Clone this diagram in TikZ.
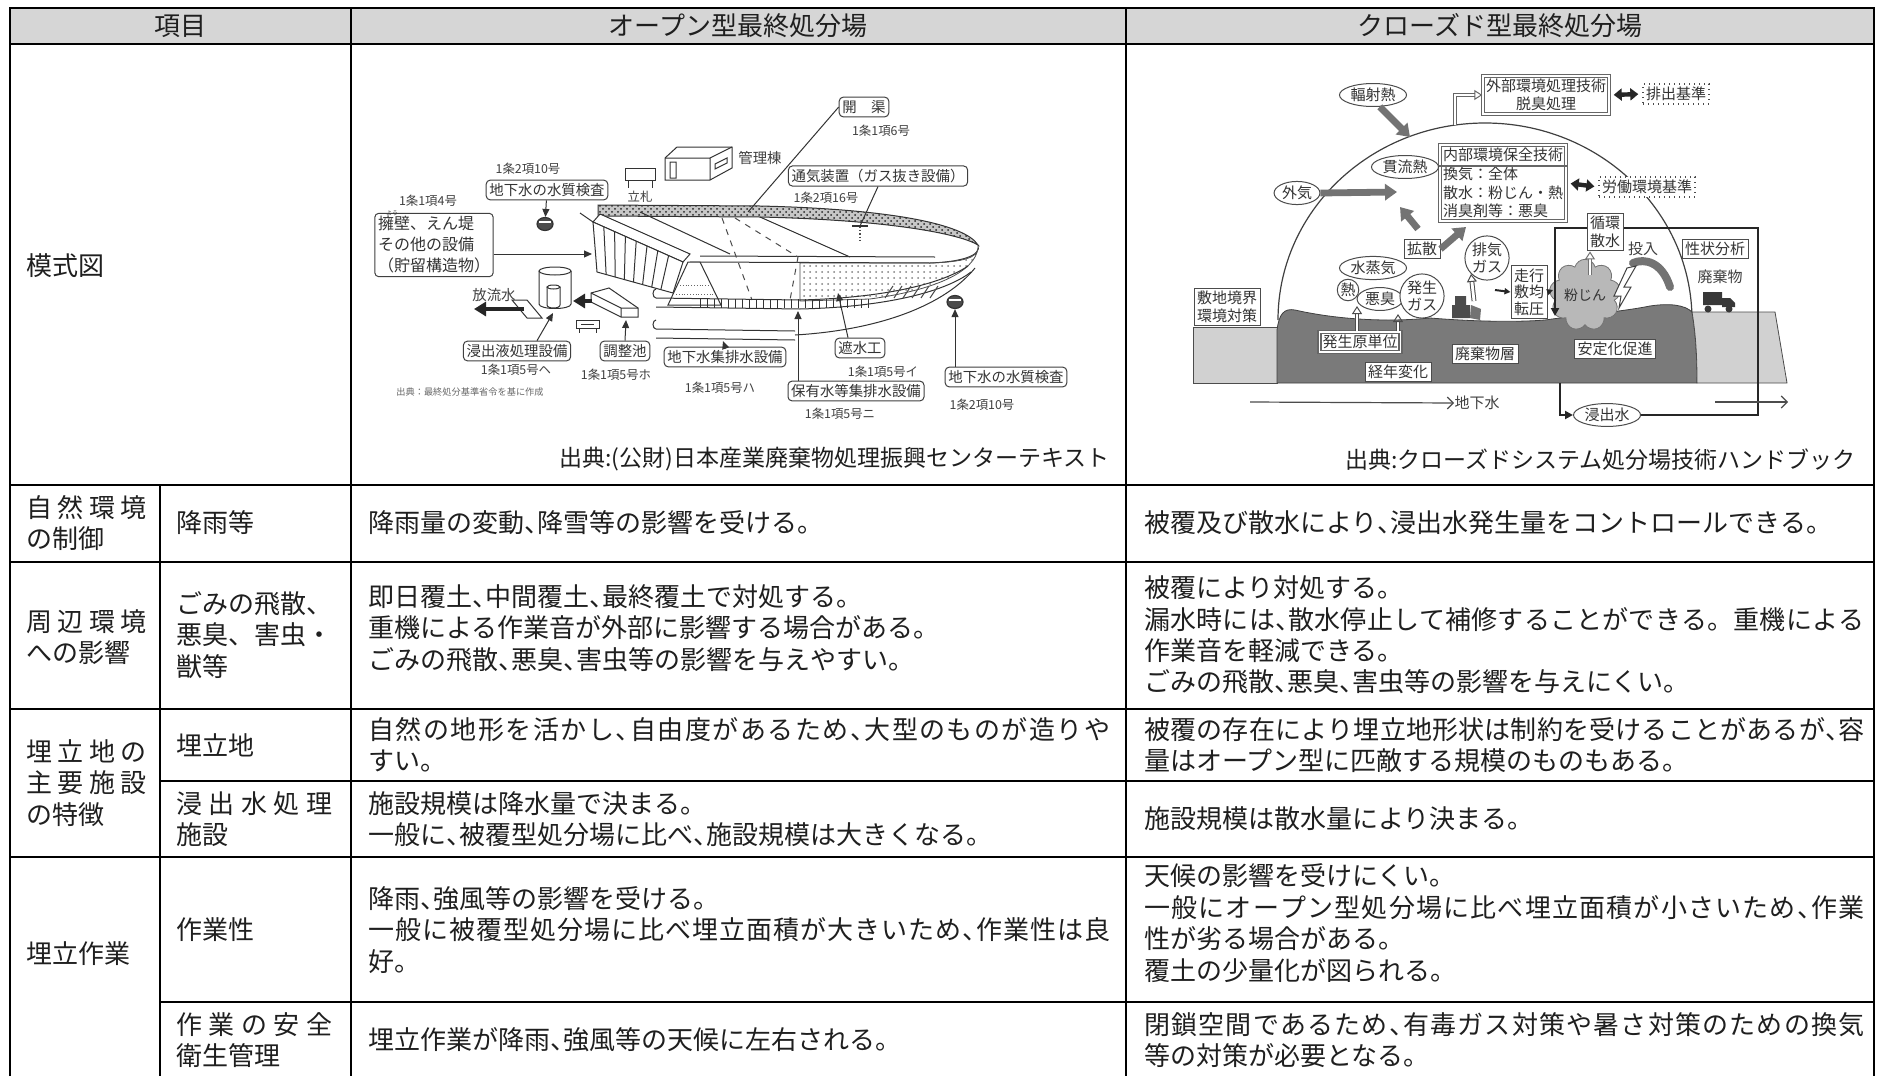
\documentclass[tikz,border=0pt]{standalone}
\usepackage{fontspec}
\setmainfont{Noto Sans CJK JP}
\usetikzlibrary{positioning,arrows.meta,shapes.geometric,shapes.symbols,patterns}
\newcommand{\tn}{\makebox[0.5em][l]{、}}
\def\jspread#1{#1\jspreadnext}
\def\jspreadnext#1{\ifx\relax#1\else\hfill#1\expandafter\jspreadnext\fi}
\newcommand{\jline}[2]{\makebox[#1]{\jspread#2\relax}}

\begin{document}
\begin{tikzpicture}[x=0.5pt,y=-0.5pt,
  gridline/.style={line width=1.1pt},
  cell/.style={anchor=west,align=left,inner sep=0pt,text=black!88,font=\fontsize{13}{15.7}\selectfont},
  hdr/.style={inner sep=0pt,text=black!88,font=\fontsize{13}{15}\selectfont},
  src/.style={cell,anchor=east,font=\fontsize{11.5}{14}\selectfont},
  lbl/.style={draw=black!75,rounded corners=2pt,line width=0.5pt,fill=white,inner sep=1.6pt,font=\fontsize{7.2}{9}\selectfont,text=black!80},
  num/.style={inner sep=0pt,font=\fontsize{6.2}{7}\selectfont,text=black!75},
  btag/.style={draw=black!70,line width=0.5pt,fill=white,inner sep=1.5pt,align=center,font=\fontsize{7.5}{9}\selectfont,text=black!80},
  dtag/.style={btag,draw=black!60,line width=0.7pt,double=white,double distance=0.8pt},
  dotbox/.style={btag,dotted,line width=0.7pt},
  oval/.style={draw=black!70,ellipse,line width=0.5pt,fill=white,inner sep=0.6pt,align=center,font=\fontsize{7.5}{8.5}\selectfont,text=black!80},
  lead/.style={-{Triangle[length=4pt,width=3.5pt]},line width=0.5pt,black!80},
  fat/.style={-{Triangle[length=6pt,width=7pt]},line width=2.2pt,black!85},
  heavy/.style={-{Triangle[length=6pt,width=8pt]},line width=3.4pt,black!55},
  hollow/.style={-{Triangle[open,length=4pt,width=5pt]},double=white,double distance=1.4pt,line width=0.5pt,black!70},
  twoway/.style={{Triangle[length=4pt,width=6pt]}-{Triangle[length=4pt,width=6pt]},line width=2.2pt,black!85,shorten >=2pt,shorten <=2pt}]

\useasboundingbox (0,0) rectangle (1878,1076);
\fill[white] (0,0) rectangle (1878,1076);
\fill[black!16] (10,8) rectangle (1874,44);
\draw[gridline] (10,1076) -- (10,8) -- (1874,8) -- (1874,1076);
\draw[gridline] (10,44) -- (1874,44) (10,485) -- (1874,485) (10,562) -- (1874,562) (10,709) -- (1874,709)
  (160,781) -- (1874,781) (10,857) -- (1874,857) (160,1002) -- (1874,1002);
\draw[gridline] (351,8) -- (351,1076) (1126,8) -- (1126,1076) (160,485) -- (160,1076);

\node[hdr] (hkoumoku) at (180,26) {項目};
\node[hdr] (hopen) at (738,26) {オープン型最終処分場};
\node[hdr] (hclosed) at (1500,26) {クローズド型最終処分場};

\node[cell] (mokei) at (26,266) {模式図};
\node[src] (srcopen) at (1110,459) {出典:(公財)日本産業廃棄物処理振興センターテキスト};
\node[src] (srcclosed) at (1856,460) {出典:クローズドシステム処分場技術ハンドブック};

\node[cell] (shizen) at (26,523) {\jline{60pt}{自然環境}\\の制御};
\node[cell] (kouu) at (176,523) {降雨等};
\node[cell] (shizenopen) at (368,523) {降雨量の変動\tn 降雪等の影響を受ける。};
\node[cell] (shizenclosed) at (1144,523) {被覆及び散水により\tn 浸出水発生量をコントロールできる。};

\node[cell] (shuhen) at (26,637) {\jline{60pt}{周辺環境}\\への影響};
\node[cell] (gomi) at (176,635) {ごみの飛散、\\\jline{78pt}{悪臭、害虫・}\\獣等};
\node[cell] (shuhenopen) at (368,628) {即日覆土\tn 中間覆土\tn 最終覆土で対処する。\\重機による作業音が外部に影響する場合がある。\\ごみの飛散\tn 悪臭\tn 害虫等の影響を与えやすい。};
\node[cell] (shuhenclosed) at (1144,635) {被覆により対処する。\\\jline{360pt}{漏水時には\tn 散水停止して補修することができる。重機による}\\作業音を軽減できる。\\ごみの飛散\tn 悪臭\tn 害虫等の影響を与えにくい。};

\node[cell] (umetatechi) at (26,783) {\jline{60pt}{埋立地の}\\\jline{60pt}{主要施設}\\の特徴};
\node[cell] (chi) at (176,745) {埋立地};
\node[cell] (chiopen) at (368,745) {\jline{371pt}{自然の地形を活かし\tn 自由度があるため\tn 大型のものが造りや}\\すい。};
\node[cell] (chiclosed) at (1144,745) {\jline{360pt}{被覆の存在により埋立地形状は制約を受けることがあるが\tn 容}\\量はオープン型に匹敵する規模のものもある。};
\node[cell] (shisetsu) at (176,819) {\jline{78pt}{浸出水処理}\\施設};
\node[cell] (shisetsuopen) at (368,819) {施設規模は降水量で決まる。\\一般に\tn 被覆型処分場に比べ\tn 施設規模は大きくなる。};
\node[cell] (shisetsuclosed) at (1144,819) {施設規模は散水量により決まる。};

\node[cell] (sagyou) at (26,954) {埋立作業};
\node[cell] (sagyousei) at (176,930) {作業性};
\node[cell] (sagyouopen) at (368,930) {降雨\tn 強風等の影響を受ける。\\\jline{371pt}{一般に被覆型処分場に比べ埋立面積が大きいため\tn 作業性は良}\\好。};
\node[cell] (sagyouclosed) at (1144,923) {天候の影響を受けにくい。\\\jline{360pt}{一般にオープン型処分場に比べ埋立面積が小さいため\tn 作業}\\性が劣る場合がある。\\覆土の少量化が図られる。};
\node[cell] (anzen) at (176,1040) {\jline{78pt}{作業の安全}\\衛生管理};
\node[cell] (anzenopen) at (368,1040) {埋立作業が降雨\tn 強風等の天候に左右される。};
\node[cell] (anzenclosed) at (1144,1040) {\jline{360pt}{閉鎖空間であるため\tn 有毒ガス対策や暑さ対策のための換気}\\等の対策が必要となる。};

\fill[black!22] (598,205) -- (760,206) .. controls (890,209) and (965,224) .. (978,245) .. controls (960,234) and (890,220) .. (760,217) -- (598,216) -- cycle;
\draw[black!80,line width=0.5pt,pattern=crosshatch dots,pattern color=black!85] (598,205) -- (760,206) .. controls (890,209) and (965,224) .. (978,245) .. controls (960,234) and (890,220) .. (760,217) -- (598,216) -- cycle;
\draw[black!80,line width=0.5pt] (978,245) .. controls (982,256) and (960,262) .. (930,263) -- (690,262) (935,257) -- (700,256);
\draw[black!70,line width=0.4pt,pattern=dots,pattern color=black!50] (800,263) -- (930,263) .. controls (962,262) and (978,258) .. (978,248) .. controls (975,272) and (935,290) .. (870,299) -- (800,301) -- cycle;
\draw[black!80,line width=0.5pt] (760,217) -- (850,257) (640,212) -- (730,254) (580,213) -- (593,222);
\draw[black!70,line width=0.5pt,dashed] (722,218) -- (752,300) (735,218) -- (798,257) (798,257) -- (790,300);
\draw[black!80,line width=0.5pt,fill=white] (593,222) -- (600,214) -- (690,254) -- (683,262) -- cycle;
\draw[black!80,line width=0.5pt,fill=white] (593,222) -- (683,262) -- (673,293) -- (597,272) -- cycle;
\foreach \t in {0.12,0.24,...,0.9}
  \draw[black!80,line width=0.5pt] ({593+90*\t},{222+40*\t}) -- ({597+76*\t},{272+21*\t});
\draw[black!80,line width=0.5pt,fill=white] (688,262) -- (700,262) -- (721,305) -- (668,305) -- cycle;
\draw[black!60,densely dotted] (680,285) -- (710,285) (676,294) -- (714,294);
\draw[black!80,line width=0.5pt] (656,298) -- (800,300) .. controls (880,298) and (940,285) .. (968,266)
  (656,307) -- (800,309) .. controls (885,307) and (945,292) .. (971,272);
\draw[black!80,line width=0.5pt] (656,298) arc[start angle=90,end angle=270,x radius=3,y radius=4.5];
\foreach \i in {0,...,24}
  \draw[black!80,line width=0.5pt] ({700+\i*7},299) -- ({700+\i*7},308);
\draw[black!80,line width=0.5pt] (656,329) -- (795,331) (656,338) -- (795,340)
  (656,329) arc[start angle=90,end angle=270,x radius=3,y radius=4.5]
  (795,335) .. controls (880,330) and (945,305) .. (975,268);
\foreach \i in {0,...,5}
  \draw[black!70,line width=0.5pt] ({885+\i*9},298) -- ({893+\i*9},286);
\draw[black!80,line width=0.5pt,fill=white] (625,168) rectangle (655,180);
\draw[black!80,line width=0.5pt] (628,180) -- (628,188) (652,180) -- (652,188);
\draw[black!80,line width=0.5pt,fill=white] (665,158) -- (677,147) -- (732,147) -- (732,168) -- (710,180) -- (665,180) -- cycle;
\draw[black!80,line width=0.5pt] (665,158) -- (710,158) -- (732,147) (710,158) -- (710,180) (670,162) rectangle (676,178);
\draw[black!80,line width=0.5pt] (715,164) -- (727,158) -- (727,163) -- (715,169) -- cycle;
\draw[black!80,line width=0.5pt,fill=white] (539,271) -- (539,304) .. controls (539,310) and (571,310) .. (571,304) -- (571,271);
\draw[black!80,line width=0.5pt,fill=white] (555,271) ellipse[x radius=16,y radius=4];
\draw[black!80,line width=0.5pt,fill=white] (547,287) -- (547,305) .. controls (547,309) and (560,309) .. (560,305) -- (560,287);
\draw[black!80,line width=0.5pt,fill=white] (553.5,287) ellipse[x radius=6.5,y radius=2];
\draw[black!80,line width=0.5pt,fill=white] (512,300) -- (527,300) -- (542,318) -- (527,318) -- cycle;
\draw[black!80,line width=0.5pt,fill=white] (591,293) -- (609,288) -- (638,308) -- (638,317) -- (621,317) -- (591,302) -- cycle;
\draw[black!80,line width=0.5pt] (591,293) -- (621,308) -- (638,308) (621,308) -- (621,317);
\draw[black!80,line width=0.5pt,fill=white] (576,320) rectangle (599,328);
\draw[black!80,line width=0.5pt] (579,328) -- (579,333) (596,328) -- (596,333) (581,324) -- (594,324);

\node[draw=black!80,ellipse,minimum width=8pt,minimum height=6.5pt,inner sep=0pt,fill=black!70,line width=0.6pt] (well1) at (545,224) {};
\node[draw=black!80,ellipse,minimum width=8pt,minimum height=6.5pt,inner sep=0pt,fill=black!70,line width=0.6pt] (well2) at (955,302) {};
\draw[white,line width=0.8pt] (539,222) -- (551,222) (949,300) -- (961,300);
\coordinate (outfall) at (474,309);
\coordinate (plate) at (524,309);
\coordinate (prismw) at (592,301);
\coordinate (tanke) at (573,301);
\coordinate (tankb) at (553,313);
\coordinate (prismb) at (626,320);
\coordinate (gwpipe) at (723,341);
\coordinate (liner) at (838,293);
\coordinate (drain) at (798,311);
\coordinate (walle) at (592,254);
\coordinate (ditch) at (748,212);
\coordinate (vent) at (860,226);
\draw[black!80,line width=0.6pt] (852,226) -- (868,226);
\draw[black!70,densely dotted,line width=0.6pt] (860,227) -- (860,240);

\node[lbl] (chika1) at (547,190) {地下水の水質検査};
\node[num] (chika1n) at (528,169) {1条2項10号};
\node[num] (youhekin) at (428,201) {1条1項4号};
\node[lbl,align=left,font=\fontsize{8}{10.5}\selectfont] (youheki) at (434,245) {擁壁、えん堤\\その他の設備\\（貯留構造物）};
\node[num,font=\fontsize{3}{3}\selectfont] (ruby) at (392,213) {よう};
\node[num] (tatefuda) at (640,197) {立札};
\node[num,font=\fontsize{7.2}{9}\selectfont] (kanri) at (760,158) {管理棟};
\node[lbl] (kaikyo) at (864,107) {開\quad 渠};
\node[num] (kaikyon) at (881,131) {1条1項6号};
\node[lbl] (tsuki) at (878,176) {通気装置（ガス抜き設備）};
\node[num] (tsukin) at (826,198) {1条2項16号};
\node[num,font=\fontsize{7.2}{9}\selectfont] (horyu) at (494,295) {放流水};
\node[lbl] (shinshutsu) at (517,351) {浸出液処理設備};
\node[num] (shinshutsun) at (516,370) {1条1項5号ヘ};
\node[lbl] (chosei) at (625,351) {調整池};
\node[num] (choseen) at (616,375) {1条1項5号ホ};
\node[lbl] (chikashu) at (725,357) {地下水集排水設備};
\node[num] (chikashun) at (720,388) {1条1項5号ハ};
\node[lbl] (shasui) at (860,348) {遮水工};
\node[num] (shasuin) at (883,372) {1条1項5号イ};
\node[lbl] (hoyu) at (856,391) {保有水等集排水設備};
\node[num] (hoyun) at (840,414) {1条1項5号ニ};
\node[lbl] (chika2) at (1006,377) {地下水の水質検査};
\node[num] (chika2n) at (982,405) {1条2項10号};
\node[num,font=\fontsize{4.6}{5}\selectfont,text=black!60] (kijun) at (470,392) {出典：最終処分基準省令を基に作成};

\draw[fat] (plate) -- (outfall);
\draw[fat] (prismw) -- (tanke);
\draw[lead] (chika1) -- (well1);
\draw[lead] (youheki.east |- walle) -- (walle);
\draw[black!80,line width=0.5pt] (kaikyo.west) -- (ditch);
\draw[black!80,line width=0.5pt] (tsuki.south) -- (vent);
\draw[lead] ([xshift=10pt]shinshutsu.north) -- (tankb);
\draw[lead] (chosei.north) -- (prismb);
\draw[lead] (chikashu.north) -- (gwpipe);
\draw[lead] ([xshift=-6pt]shasui.north) -- (liner);
\draw[lead] ([xshift=-29pt]hoyu.north) -- (drain);
\draw[lead] ([xshift=-25.5pt]chika2.north) -- (well2);

\draw[black!75,line width=0.6pt] (1278,320) arc[start angle=180,end angle=360,x radius=207,y radius=197];
\draw[black!70,fill=black!18] (1193,327) rectangle (1277,383);
\draw[black!75,fill=black!52] (1277,383) -- (1277,330) .. controls (1279,314) and (1284,308) .. (1295,310) .. controls (1330,318) and (1380,323) .. (1430,318) .. controls (1480,322) and (1520,322) .. (1545,320) .. controls (1580,315) and (1620,312) .. (1650,306) .. controls (1670,303) and (1685,305) .. (1692,312) .. controls (1695,330) and (1697,350) .. (1697,383) -- cycle;
\draw[black!70,fill=black!18] (1692,312) -- (1775,312) -- (1787,383) -- (1697,383) .. controls (1697,350) and (1695,330) .. (1692,312) -- cycle;

\coordinate (domea) at (1410,137);
\coordinate (domet) at (1455,125);
\coordinate (kanryuin) at (1397,192);
\coordinate (kakua) at (1418,229);
\coordinate (kakub) at (1400,207);
\coordinate (naibuin) at (1466,227);
\coordinate (dozer) at (1474,301);
\coordinate (genl) at (1357,306);
\coordinate (genr) at (1398,314);
\coordinate (wasteout) at (1560,383);
\coordinate (loopend) at (1555,316);
\coordinate (dustup) at (1590,275);
\coordinate (gwa) at (1250,402);
\coordinate (gwb) at (1715,402);
\coordinate (gwc) at (1788,402);

\node[dtag] (gaibu) at (1546,95) {外部環境処理技術\\脱臭処理};
\node[dotbox] (haishutsu) at (1676,94) {排出基準};
\node[dtag,align=left,font=\fontsize{7.5}{9.4}\selectfont] (naibu) at (1503,183) {内部環境保全技術\\換気：全体\\散水：粉じん・熱\\消臭剤等：悪臭};
\draw[black!60,line width=0.6pt] (naibu.west |- 0,166) -- (naibu.east |- 0,166);
\node[dotbox] (roudou) at (1647,187) {労働環境基準};
\node[oval] (fukusha) at (1373,95) {輻射熱};
\node[oval] (kanryu) at (1405,167) {貫流熱};
\node[oval] (gaiki) at (1297,193) {外気};
\node[btag] (kakusan) at (1422,249) {拡散};
\node[oval,circle,inner sep=0.3pt] (haiki) at (1487,258) {排気\\ガス};
\node[oval] (jouki) at (1373,268) {水蒸気};
\node[oval,circle,inner sep=0.2pt] (netsu) at (1348,290) {熱};
\node[oval] (akushu) at (1380,299) {悪臭};
\node[oval,circle,inner sep=0.3pt] (hassei) at (1422,296) {発生\\ガス};
\node[btag,font=\fontsize{7.5}{8.2}\selectfont] (soukou) at (1529,292) {走行\\敷均\\転圧};
\node[cloud,cloud puffs=9,draw=black!55,fill=black!28,minimum width=17pt,minimum height=20pt,inner sep=0pt,font=\fontsize{7}{8}\selectfont,text=black!80] (funjin) at (1585,295) {粉じん};
\node[btag] (seijou) at (1715,249) {性状分析};
\node[num,font=\fontsize{7.5}{9}\selectfont] (tonyu) at (1643,249) {投入};
\node[num,font=\fontsize{7.5}{9}\selectfont] (haikibutsu) at (1720,277) {廃棄物};
\node[btag] (shikichi) at (1227,307) {敷地境界\\環境対策};
\node[dtag] (gensan) at (1360,342) {発生原単位};
\node[btag] (keinen) at (1398,372) {経年変化};
\node[btag] (haikisou) at (1485,354) {廃棄物層};
\node[btag] (anteika) at (1615,349) {安定化促進};
\node[oval] (shinshutsusui) at (1607,415) {浸出水};
\node[num,font=\fontsize{7.5}{9}\selectfont] (chikasui) at (1477,403) {地下水};

\fill[black!78] (1703,292) rectangle (1722,305) (1722,298) -- (1730,298) -- (1735,303) -- (1735,307) -- (1722,307) -- cycle;
\fill[black!78] (1708,309) circle[radius=3.5] (1729,309) circle[radius=3.5];
\fill[black!70] (1452,305) rectangle (1470,318) (1455,296) rectangle (1466,305);
\fill[black!55] (1471,305) -- (1481,309) -- (1480,320) -- (1470,318) -- cycle;
\draw[black!55,line width=4pt,line cap=round] (1670,287) .. controls (1662,262) and (1645,258) .. (1633,263);
\draw[black!75,fill=white,line width=0.5pt] (1636,266) -- (1624,287) -- (1631,287) -- (1619,308) -- (1621,296) -- (1614,296) -- (1627,268) -- cycle;

\draw[line width=1.3pt,black!85,-{Triangle[length=4pt,width=4pt]}] (shinshutsusui.east) -| (1758,228) -| (loopend);
\draw[line width=1.3pt,black!85,-{Triangle[length=4pt,width=4pt]}] (wasteout) |- (shinshutsusui.west);
\node[btag] (junkan) at (1605,232) {循環\\散水};

\draw[heavy] (fukusha.-60) -- (domea);
\draw[heavy] (gaiki.east) -- (kanryuin);
\draw[heavy] (kakua) -- (kakub);
\draw[heavy] (kakusan.east) -- (naibuin);
\draw[hollow,black!60] (domet) |- (gaibu.west);
\draw[twoway] (gaibu.east) -- (haishutsu.west);
\draw[twoway] (naibu.east) -- (roudou.west);
\draw[hollow] ([xshift=-1.5pt]gensan.north) -- (genl);
\draw[hollow] ([xshift=19pt]gensan.north) -- (genr);
\draw[hollow] (dozer) -- (haiki.south west);
\draw[hollow,black!55] (dustup) -- (junkan.south -| dustup);
\draw[-{Triangle[length=3pt,width=3pt]},line width=1pt,black!85] (1495,290) -- (soukou.west);
\draw[-{Triangle[length=3pt,width=3pt]},line width=1pt,black!85] (soukou.east) -- (1553,290);
\draw[-{Straight Barb[length=3pt]},black!70,line width=0.6pt] (gwa) -- (chikasui.west);
\draw[-{Straight Barb[length=3pt]},black!70,line width=0.6pt] (gwb) -- (gwc);
\end{tikzpicture}
\end{document}
